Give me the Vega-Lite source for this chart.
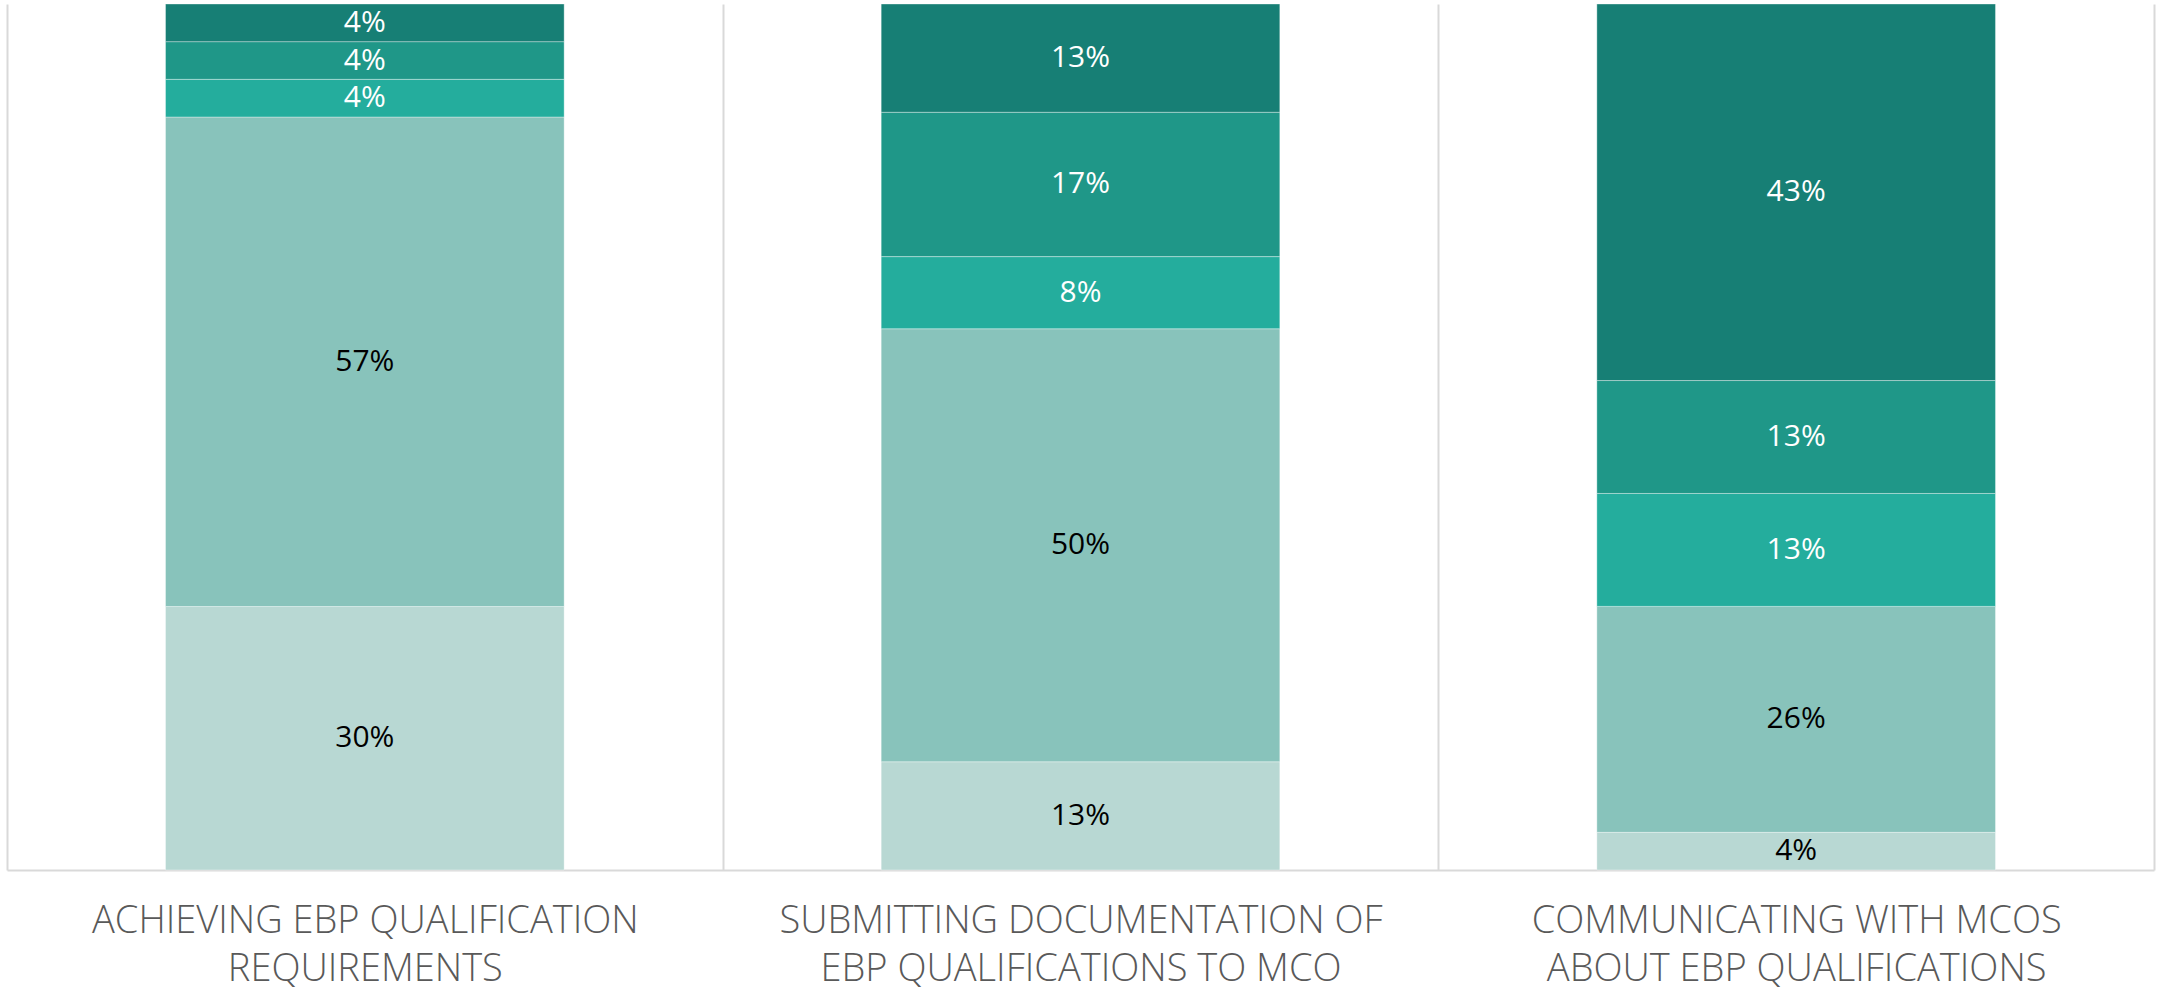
{
  "$schema": "https://vega.github.io/schema/vega-lite/v6.json",
  "autosize": "none",
  "width": 2147,
  "height": 866,
  "padding": {"left": 7, "top": 4, "right": 4, "bottom": 126},
  "background": "white",
  "config": {"view": {"stroke": null}},
  "data": {
    "values": [
      {"task": "ACHIEVING EBP QUALIFICATION\nREQUIREMENTS", "series": "S1", "share": 0.3043},
      {"task": "ACHIEVING EBP QUALIFICATION\nREQUIREMENTS", "series": "S2", "share": 0.5652},
      {"task": "ACHIEVING EBP QUALIFICATION\nREQUIREMENTS", "series": "S3", "share": 0.0435},
      {"task": "ACHIEVING EBP QUALIFICATION\nREQUIREMENTS", "series": "S4", "share": 0.0435},
      {"task": "ACHIEVING EBP QUALIFICATION\nREQUIREMENTS", "series": "S5", "share": 0.0435},
      {"task": "SUBMITTING DOCUMENTATION OF\nEBP QUALIFICATIONS TO MCO", "series": "S1", "share": 0.125},
      {"task": "SUBMITTING DOCUMENTATION OF\nEBP QUALIFICATIONS TO MCO", "series": "S2", "share": 0.5},
      {"task": "SUBMITTING DOCUMENTATION OF\nEBP QUALIFICATIONS TO MCO", "series": "S3", "share": 0.0833},
      {"task": "SUBMITTING DOCUMENTATION OF\nEBP QUALIFICATIONS TO MCO", "series": "S4", "share": 0.1667},
      {"task": "SUBMITTING DOCUMENTATION OF\nEBP QUALIFICATIONS TO MCO", "series": "S5", "share": 0.125},
      {"task": "COMMUNICATING WITH MCOS\nABOUT EBP QUALIFICATIONS", "series": "S1", "share": 0.0435},
      {"task": "COMMUNICATING WITH MCOS\nABOUT EBP QUALIFICATIONS", "series": "S2", "share": 0.2609},
      {"task": "COMMUNICATING WITH MCOS\nABOUT EBP QUALIFICATIONS", "series": "S3", "share": 0.1304},
      {"task": "COMMUNICATING WITH MCOS\nABOUT EBP QUALIFICATIONS", "series": "S4", "share": 0.1304},
      {"task": "COMMUNICATING WITH MCOS\nABOUT EBP QUALIFICATIONS", "series": "S5", "share": 0.4348}
    ]
  },
  "encoding": {
    "x": {
      "field": "task",
      "type": "nominal",
      "sort": null,
      "scale": {"paddingInner": 0, "paddingOuter": 0},
      "axis": {
        "title": null,
        "labelAngle": 0,
        "labelExpr": "split(datum.label, '\\n')",
        "labelFont": "Open Sans",
        "labelFontSize": 38,
        "labelFontWeight": 300,
        "labelColor": "#595959",
        "labelLineHeight": 48,
        "labelPadding": 32,
        "labelLimit": 0,
        "ticks": false,
        "tickBand": "extent",
        "grid": true,
        "gridColor": "#d9d9d9",
        "gridWidth": 2,
        "domainColor": "#d9d9d9",
        "domainWidth": 2
      }
    },
    "y": {
      "field": "share",
      "type": "quantitative",
      "stack": "normalize",
      "axis": null
    },
    "order": {"field": "series", "sort": "ascending"}
  },
  "layer": [
    {
      "mark": {"type": "bar", "width": {"band": 0.557}, "stroke": "white", "strokeWidth": 1, "strokeOpacity": 0.35},
      "encoding": {
        "color": {
          "field": "series",
          "type": "nominal",
          "legend": null,
          "scale": {
            "domain": ["S1", "S2", "S3", "S4", "S5"],
            "range": ["#b8d8d3", "#88c3bb", "#24ad9d", "#1f9788", "#177f75"]
          }
        }
      }
    },
    {
      "mark": {"type": "text", "font": "Open Sans", "fontSize": 30, "align": "center", "baseline": "middle"},
      "encoding": {
        "y": {"field": "share", "type": "quantitative", "stack": "normalize", "bandPosition": 0.5},
        "text": {"field": "share", "type": "quantitative", "format": ".0%"},
        "color": {
          "condition": {"test": "datum.series == 'S1' || datum.series == 'S2'", "value": "#000000"},
          "value": "#ffffff"
        }
      }
    }
  ]
}
